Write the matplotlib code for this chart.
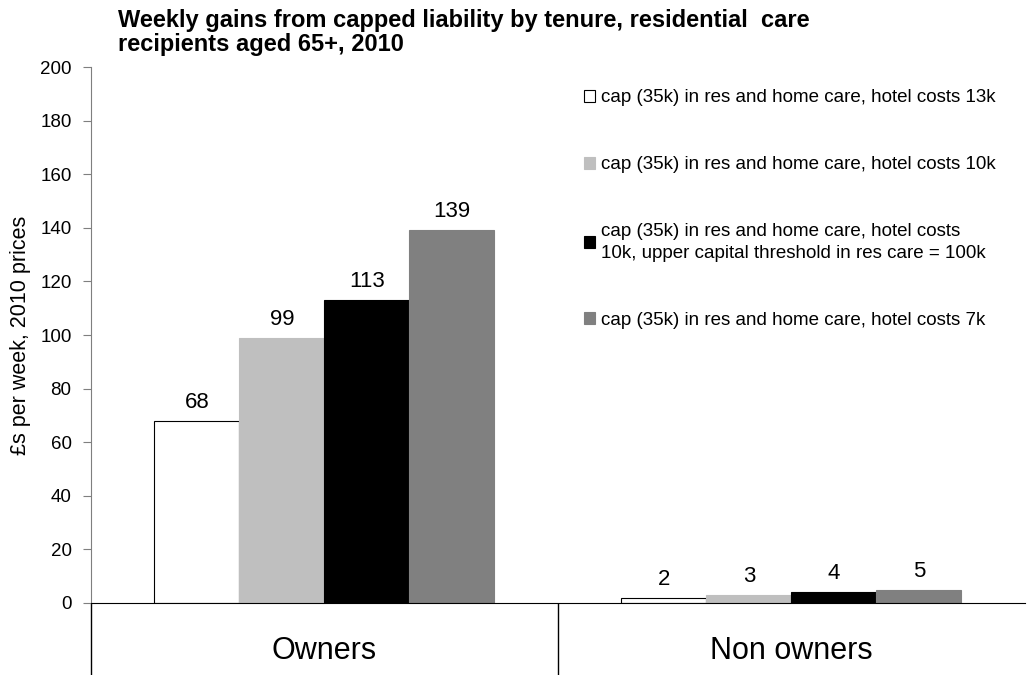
import matplotlib
matplotlib.use("Agg")
import matplotlib.pyplot as plt
from matplotlib.patches import Patch
import numpy as np

plt.rcParams["font.family"] = ["Liberation Sans", "DejaVu Sans"]

categories = ["Owners", "Non owners"]
series_names = [
    "cap (35k) in res and home care, hotel costs 13k",
    "cap (35k) in res and home care, hotel costs 10k",
    "cap (35k) in res and home care, hotel costs\n10k, upper capital threshold in res care = 100k",
    "cap (35k) in res and home care, hotel costs 7k",
]
owners = [68, 99, 113, 139]
non_owners = [2, 3, 4, 5]
colors = ["white", "#bfbfbf", "black", "#808080"]
edges = ["black", "#bfbfbf", "black", "#808080"]

fig = plt.figure(figsize=(10.28, 6.75), dpi=100)
ax = fig.add_axes([0.0885, 0.1067, 0.9085, 0.794])

x = np.arange(len(categories))
width = 0.182
values = np.array([owners, non_owners]).T  # series x category
for i, (vals, c, ec) in enumerate(zip(values, colors, edges)):
    pos = x + (i - 1.5) * width
    bars = ax.bar(pos, vals, width, color=c, edgecolor=ec, linewidth=0.8,
                  label=series_names[i], zorder=2)
    for b, v in zip(bars, vals):
        ax.text(b.get_x() + b.get_width() / 2, v + 3, f"{v:.0f}",
                ha="center", va="bottom", fontsize=16)

ax.set_xlim(-0.5, 1.5)
ax.set_ylim(0, 200)
ax.set_yticks(range(0, 201, 20))
ax.tick_params(axis="y", labelsize=13.5, length=6, color="#7f7f7f", pad=8)
ax.set_ylabel("£s per week, 2010 prices", fontsize=15.5)
ax.yaxis.set_label_coords(-0.064, 0.5)

# category labels and long separators below the axis
ax.set_xticks(x)
ax.set_xticklabels(categories, fontsize=22)
ax.tick_params(axis="x", which="major", length=0, pad=24)
ax.set_xticks([-0.5, 0.5], minor=True)
ax.tick_params(axis="x", which="minor", length=52, direction="out",
               width=1, color="black")

for s in ["top", "right"]:
    ax.spines[s].set_visible(False)
ax.spines["left"].set_color("#7f7f7f")
ax.spines["bottom"].set_color("black")

fig.text(118 / 1028, 1 - 9 / 675,
         "Weekly gains from capped liability by tenure, residential  care\n"
         "recipients aged 65+, 2010",
         fontsize=17, fontweight="bold", ha="left", va="top",
         linespacing=1.05)

handles = [Patch(facecolor=c, edgecolor=("black" if c == "white" else c),
                 linewidth=0.8) for c in colors]
leg = fig.legend(handles, series_names, loc="upper left",
                 bbox_to_anchor=(576 / 1028, 1 - 82 / 675),
                 frameon=False, fontsize=13.5, handlelength=0.6,
                 handleheight=0.6, handletextpad=0.35, labelspacing=2.65,
                 borderaxespad=0)
for t in leg.get_texts():
    t.set_linespacing(1.4)

fig.savefig("out.png", dpi=100)
